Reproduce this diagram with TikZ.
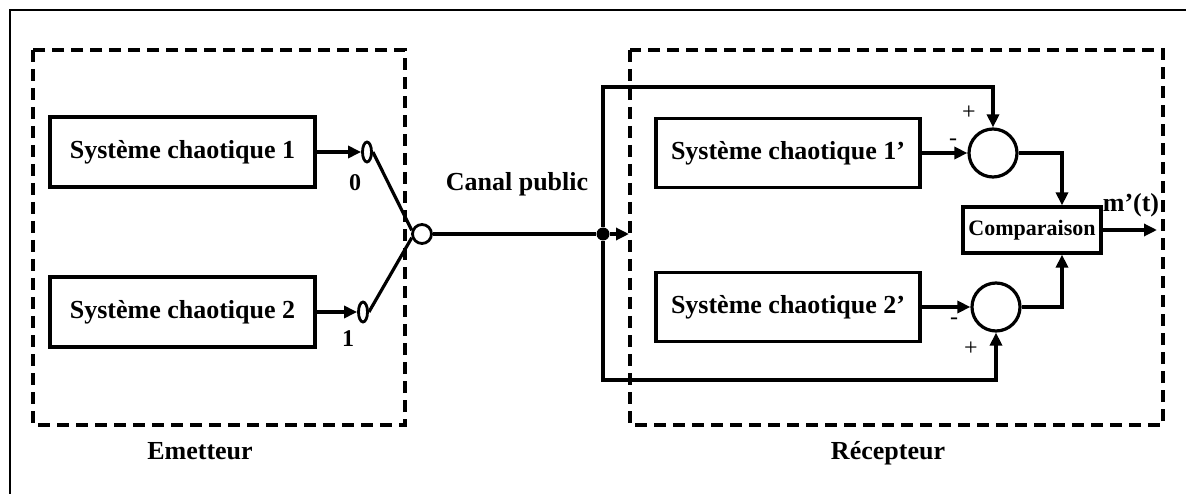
\documentclass[tikz,border=0pt]{standalone}
\usepackage{fontspec}
\setmainfont{Liberation Serif}
\usetikzlibrary{arrows.meta,shapes.geometric}
\begin{document}
\begin{tikzpicture}[x=1pt,y=-1pt,
  sysbox/.style={draw,line width=3.2pt,minimum width=265pt,minimum height=70pt,inner sep=0pt,font=\fontsize{26}{30}\selectfont\bfseries},
  sumc/.style={draw,line width=3.2pt,circle,minimum size=48pt,inner sep=0pt},
  contact/.style={draw,line width=2.8pt,ellipse,minimum width=9pt,minimum height=20pt,inner sep=0pt},
  arr/.style={line width=3.2pt,-{Triangle[length=13pt,width=12pt]}},
  wire/.style={line width=3.2pt},
  grp/.style={draw,line width=3.2pt,dash pattern=on 12pt off 7pt},
  lbl/.style={font=\fontsize{26}{30}\selectfont\bfseries},
  sgn/.style={font=\fontsize{24}{26}\selectfont},
]
\useasboundingbox (0,0) rectangle (1186,494);
% outer frame
\draw[line width=2pt] (10,494) -- (10,10) -- (1186,10);
% groups
\draw[grp] (33,50) rectangle (405,425);
\draw[grp] (630,50) rectangle (1163,425);
\node[lbl,anchor=base] (em) at (200,459) {Emetteur};
\node[lbl,anchor=base] (rec) at (888,459) {Récepteur};
% emitter
\node[sysbox] (s1) at (182.5,152) {Système chaotique 1};
\node[sysbox] (s2) at (182.5,312) {Système chaotique 2};
\node[contact] (e0) at (367,152) {};
\node[contact] (e1) at (363,312) {};
\node[font=\fontsize{24}{26}\selectfont\bfseries] (l0) at (355,183) {0};
\node[font=\fontsize{24}{26}\selectfont\bfseries] (l1) at (348,339) {1};
\node[draw,line width=2.8pt,circle,minimum size=19pt,inner sep=0pt] (sw) at (422,234) {};
\draw[arr] (s1.east) -- (e0.west);
\draw[arr] (s2.east) -- (e1.west);
\draw[wire] (e0.east) -- (sw.160);
\draw[wire] (e1.east) -- (sw.200);
% channel
\node[circle,fill,inner sep=0pt,minimum size=13pt] (dot) at (603,234) {};
\coordinate (rin) at (629,234);
\coordinate (ftop) at (603,87);
\coordinate (fbot) at (603,380);
\node[lbl] (canal) at (517,184) {Canal public};
\draw[wire] (sw.east) -- (dot);
\draw[arr] (dot) -- (rin);
% receiver
\node[sysbox,minimum width=264pt,minimum height=69pt] (b1) at (788,153) {Système chaotique 1’};
\node[sysbox,minimum width=264pt,minimum height=69pt] (b2) at (788,307) {Système chaotique 2’};
\node[sumc] (c1) at (993,153) {};
\node[sumc] (c2) at (996,307) {};
\node[draw,line width=3.2pt,minimum width=138pt,minimum height=46pt,inner sep=0pt,font=\fontsize{22}{24}\selectfont\bfseries] (cmp) at (1032,230) {Comparaison};
\coordinate (out) at (1157,230);
\node[lbl] (mt) at (1131,205) {m’(t)};
\draw[arr] (b1.east) -- (c1.west);
\draw[arr] (b2.east) -- (c2.west);
\draw[arr] (c1.east) -| ([xshift=30pt]cmp.north);
\draw[arr] (c2.east) -| ([xshift=30pt]cmp.south);
\draw[arr] (cmp.east) -- (out);
\draw[arr] (dot) -- (ftop) -| (c1.north);
\draw[arr] (dot) -- (fbot) -| (c2.south);
\node[sgn] (p1) at (969,113) {+};
\node[sgn] (m1) at (953,142) {-};
\node[sgn] (m2) at (954,321) {-};
\node[sgn] (p2) at (971,349) {+};
\end{tikzpicture}
\end{document}
